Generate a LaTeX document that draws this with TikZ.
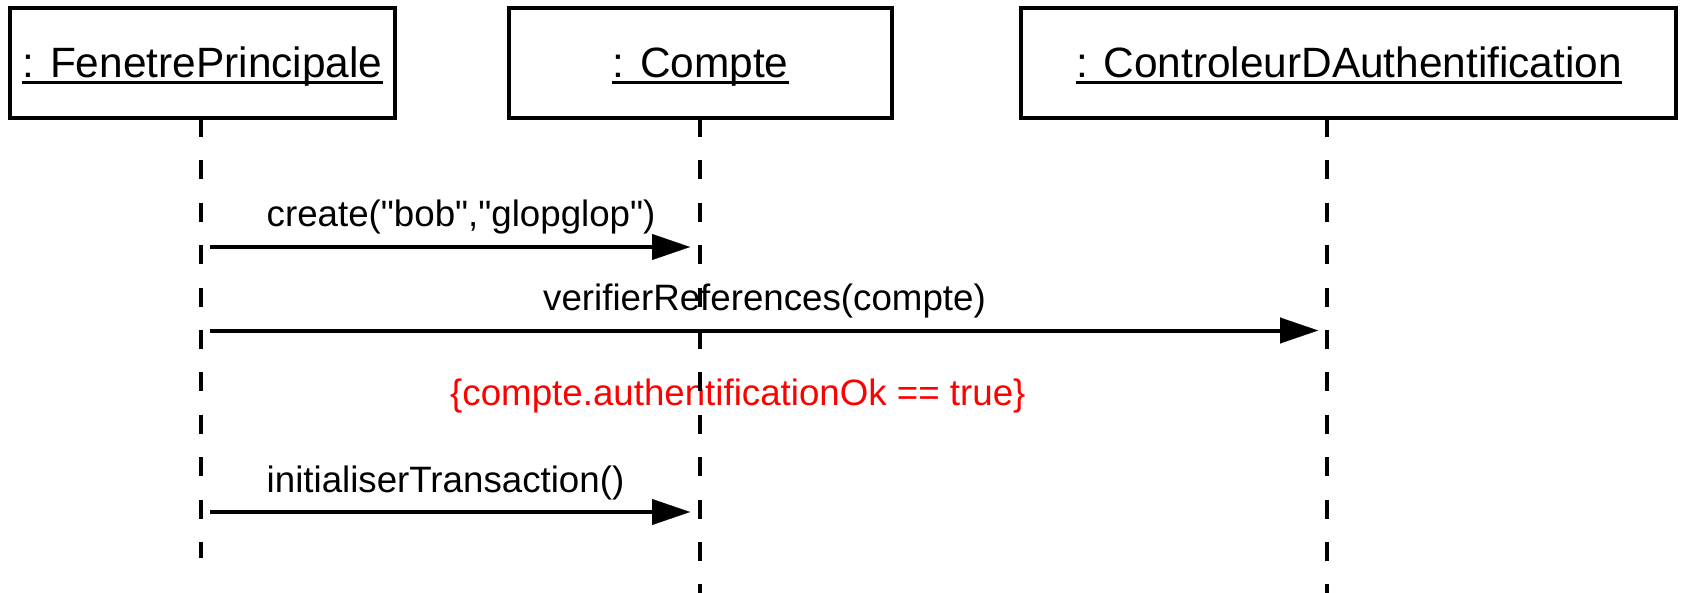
\documentclass[tikz,border=0pt]{standalone}
\usepackage{fontspec}
\setmainfont{Liberation Sans}
\newfontfamily\umlfont{Liberation Sans}
\usetikzlibrary{arrows.meta}

\begin{document}
\begin{tikzpicture}[x=1pt,y=-1pt,
  objbox/.style={draw,line width=3.5pt,minimum width=#1,minimum height=110pt,inner sep=0pt},
  objname/.style={anchor=base,inner sep=0pt,font=\umlfont\fontsize{42.4}{44}\selectfont},
  nameline/.style={line width=2.2pt},
  lifeline/.style={line width=4pt,dash pattern=on 19pt off 23.4pt},
  msg/.style={line width=4pt,-{Triangle[length=38pt,width=26pt,line width=0.1pt]},shorten <=9pt,shorten >=10pt},
  msglabel/.style={anchor=base west,inner sep=0pt,font=\umlfont\fontsize{36.7}{38}\selectfont},
  constraint/.style={msglabel,text=red}
]
\fill[white] (0,0) rectangle (1685,593);
\useasboundingbox (0,0) rectangle (1685,593);

% objects
\node[objbox=385pt] (fpbox) at (202.5,63) {};
\node[objname] (fp) at (202.5,78) {: FenetrePrincipale};
\node[objbox=383pt] (cpbox) at (700.5,63) {};
\node[objname] (cp) at (700.5,78) {: Compte};
\node[objbox=655pt] (cabox) at (1348.5,63) {};
\node[objname] (ca) at (1349,78) {: ControleurDAuthentification};
\foreach \n in {fp,cp,ca}
  \draw[nameline] ([yshift=-4.5pt]\n.base west) -- ([yshift=-4.5pt]\n.base east);

% message labels and constraint
\node[msglabel] (lbl1) at (266.5,227) {create("bob","glopglop")};
\node[msglabel] (lbl2) at (543,311) {verifierReferences(compte)};
\node[constraint] (cond) at (450,405) {\{compte.authentificationOk == true\}};
\node[msglabel] (lbl3) at (266.5,492) {initialiserTransaction()};

% lifelines
\coordinate (l1top) at (201,118);  \coordinate (l1bot) at (201,558);
\coordinate (l2top) at (700,118);  \coordinate (l2bot) at (700,593);
\coordinate (l3top) at (1327,118); \coordinate (l3bot) at (1327,593);
\draw[lifeline] (l1top) -- (l1bot);
\draw[lifeline] (l2top) -- (l2bot);
\draw[lifeline] (l3top) -- (l3bot);

% message end points on the lifelines
\coordinate (m1s) at (201,247);   \coordinate (m1e) at (700,247);
\coordinate (m2s) at (201,330.5); \coordinate (m2e) at (1327,330.5);
\coordinate (m3s) at (201,512);   \coordinate (m3e) at (700,512);
\draw[msg] (m1s) -- (m1e);
\draw[msg,shorten >=9pt] (m2s) -- (m2e);
\draw[msg] (m3s) -- (m3e);
\end{tikzpicture}
\end{document}
